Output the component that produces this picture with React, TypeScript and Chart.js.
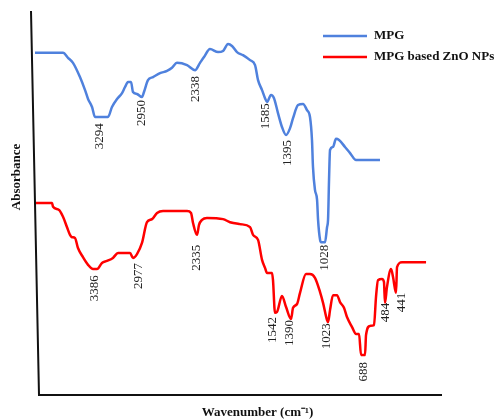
import React, { useEffect, useRef } from "react";
import { Chart, registerables } from "chart.js";

Chart.register(...registerables);

// MPG spectrum (wavenumber, cm-1) and absorbance (a.u.)
const mpgWavenumber = [
  3970, 3689, 3639, 3589, 3519, 3468, 3438, 3398, 3368, 3238, 3198, 3147, 3097, 3067, 3037, 3007,
  2987, 2947, 2897, 2877, 2837, 2786, 2716, 2646, 2596, 2546, 2445, 2365, 2315, 2275, 2215, 2134,
  2084, 2034, 1994, 1944, 1884, 1813, 1763, 1733, 1693, 1663, 1643, 1603, 1573, 1533, 1493, 1452,
  1412, 1382, 1332, 1282, 1242, 1212, 1192, 1182, 1162, 1141, 1131, 1111, 1101, 1061, 1041, 1031,
  1021, 1011, 981, 951, 921, 861, 810, 750, 510,
];
const mpgAbsorbance = [
  89.1, 89.1, 87.8, 86.5, 82.8, 79.4, 77.1, 75.0, 72.4, 72.4, 75.0, 77.1, 78.6, 80.2, 81.5, 81.5,
  78.9, 78.4, 77.6, 78.9, 82.0, 82.8, 83.8, 84.4, 85.2, 86.5, 85.9, 84.6, 86.5, 88.0, 90.1, 89.3,
  89.6, 91.4, 90.9, 89.3, 88.5, 87.2, 85.9, 82.0, 79.4, 77.3, 76.3, 78.1, 77.3, 73.4, 69.8, 67.7,
  69.5, 72.1, 75.5, 75.8, 74.2, 72.4, 66.4, 59.4, 53.4, 50.8, 45.6, 40.4, 39.8, 39.8, 43.7, 45.6,
  56.0, 63.8, 64.6, 66.7, 66.4, 64.6, 63.0, 61.2, 61.2,
];

// MPG based ZnO NPs spectrum
const znoWavenumber = [
  3960, 3799, 3789, 3729, 3689, 3649, 3619, 3599, 3569, 3539, 3489, 3438, 3388, 3348, 3298, 3248,
  3188, 3137, 3017, 2987, 2947, 2897, 2847, 2796, 2746, 2686, 2445, 2405, 2385, 2345, 2325, 2295,
  2245, 2084, 2014, 1914, 1813, 1783, 1733, 1693, 1663, 1643, 1593, 1583, 1563, 1543, 1493, 1452,
  1402, 1382, 1342, 1312, 1252, 1212, 1162, 1111, 1081, 1041, 1031, 1011, 981, 941, 911, 871,
  841, 790, 750, 720, 700, 660, 650, 610, 570, 550, 530, 490, 470, 460, 440, 399,
  379, 349, 339, 289, 48,
];
const znoAbsorbance = [
  50.0, 50.0, 49.0, 48.2, 46.4, 43.7, 41.7, 41.1, 40.9, 38.3, 35.9, 33.9, 32.8, 32.8, 34.4, 34.9,
  35.7, 37.0, 37.0, 35.7, 36.7, 39.6, 45.0, 45.8, 47.4, 47.9, 47.9, 47.4, 44.8, 41.7, 44.3, 45.6,
  46.1, 45.8, 45.0, 44.5, 43.7, 41.7, 40.4, 35.2, 33.1, 31.8, 31.8, 29.9, 21.4, 21.6, 25.8, 22.9,
  19.8, 22.7, 23.7, 26.6, 31.5, 31.5, 30.5, 26.8, 24.0, 19.5, 19.0, 22.1, 26.0, 26.0, 24.2, 22.7,
  20.3, 17.7, 15.9, 15.9, 10.4, 10.4, 15.6, 18.0, 18.2, 25.5, 29.9, 30.2, 29.4, 24.0, 28.1, 32.8,
  30.7, 26.6, 33.3, 34.6, 34.6,
];

// Peak annotations (text, wavenumber anchor, level of the top of the text)
const mpgPeakLabels = ["3294", "2950", "2338", "1585", "1395", "1028"];
const mpgPeakWavenumber = [3318, 2897, 2355, 1653, 1432, 1061];
const mpgPeakLevel = [70.8, 76.8, 83.1, 76.0, 66.4, 39.1];

const znoPeakLabels = ["3386", "2977", "2335", "1542", "1390", "1023", "688", "484", "441"];
const znoPeakWavenumber = [3368, 2927, 2345, 1583, 1412, 1041, 670, 449, 289];
const znoPeakLevel = [31.2, 34.4, 39.1, 20.3, 19.5, 18.7, 8.6, 24.0, 26.6];

const seriesNames = ["MPG", "MPG based ZnO NPs"];
const seriesColors = ["rgb(79,129,221)", "#ff0000"];
const xTitle = "Wavenumber (cm\u207B\u00B9)";
const yTitle = "Absorbance";

const SERIF = "'Liberation Serif', 'Times New Roman', serif";

const decorPlugin = {
  id: "decor",
  afterDraw(chart: any) {
    const ctx = chart.ctx as CanvasRenderingContext2D;
    const { left, right, top, bottom } = chart.chartArea;
    const xs = chart.scales.x;
    const ys = chart.scales.y;
    ctx.save();

    // axes
    ctx.strokeStyle = "#111";
    ctx.lineWidth = 2;
    ctx.beginPath();
    ctx.moveTo(left - 4, top);
    ctx.lineTo(left + 4, bottom);
    ctx.lineTo(right, bottom);
    ctx.stroke();

    // peak labels
    ctx.fillStyle = "#222";
    ctx.font = `13px ${SERIF}`;
    ctx.textAlign = "right";
    ctx.textBaseline = "middle";
    const drawLabels = (labels: string[], wn: number[], lv: number[]) => {
      labels.forEach((t, i) => {
        const px = xs.getPixelForValue(wn[i]);
        const py = ys.getPixelForValue(lv[i]);
        ctx.save();
        ctx.translate(px, py);
        ctx.rotate(-Math.PI / 2);
        ctx.fillText(t, 0, 0);
        ctx.restore();
      });
    };
    drawLabels(mpgPeakLabels, mpgPeakWavenumber, mpgPeakLevel);
    drawLabels(znoPeakLabels, znoPeakWavenumber, znoPeakLevel);

    // legend
    ctx.font = `bold 13px ${SERIF}`;
    ctx.textAlign = "left";
    ctx.fillStyle = "#111";
    chart.data.datasets.forEach((ds: any, i: number) => {
      const ly = top + 25 + i * 21;
      const lx = right - 119;
      ctx.strokeStyle = ds.borderColor;
      ctx.lineWidth = 2.5;
      ctx.beginPath();
      ctx.moveTo(lx, ly);
      ctx.lineTo(lx + 44, ly);
      ctx.stroke();
      ctx.fillText(ds.label, lx + 51, ly);
    });

    // axis titles
    ctx.textAlign = "center";
    ctx.fillText(xTitle, (left + right) / 2 + 19, bottom + 18);
    ctx.save();
    ctx.translate(17, (top + bottom) / 2 - 26);
    ctx.rotate(-Math.PI / 2);
    ctx.fillText(yTitle, 0, 0);
    ctx.restore();

    ctx.restore();
  },
};

export default function App() {
  const ref = useRef<HTMLCanvasElement | null>(null);
  useEffect(() => {
    if (!ref.current) return;
    const chart = new Chart(ref.current, {
      type: "line",
      data: {
        datasets: [
          {
            label: seriesNames[0],
            data: mpgWavenumber.map((w, i) => ({ x: w, y: mpgAbsorbance[i] })),
            borderColor: seriesColors[0],
            borderWidth: 2.5,
            pointRadius: 0,
            cubicInterpolationMode: "monotone",
            fill: false,
          },
          {
            label: seriesNames[1],
            data: znoWavenumber.map((w, i) => ({ x: w, y: znoAbsorbance[i] })),
            borderColor: seriesColors[1],
            borderWidth: 2.5,
            pointRadius: 0,
            cubicInterpolationMode: "monotone",
            fill: false,
          },
        ],
      },
      options: {
        animation: false,
        responsive: false,
        maintainAspectRatio: false,
        layout: { padding: { left: 35, right: 57, top: 11, bottom: 24 } },
        plugins: { legend: { display: false }, tooltip: { enabled: false } },
        scales: {
          x: { type: "linear", display: false, reverse: true, min: -112, max: 3970 },
          y: { type: "linear", display: false, min: 0, max: 100 },
        },
      },
      plugins: [decorPlugin],
    });
    return () => chart.destroy();
  }, []);
  return (
    <div style={{ position: "fixed", left: 0, top: 0, width: 499, height: 419, background: "#fff" }}>
      <canvas ref={ref} width={499} height={419} style={{ width: 499, height: 419, display: "block" }} />
    </div>
  );
}
